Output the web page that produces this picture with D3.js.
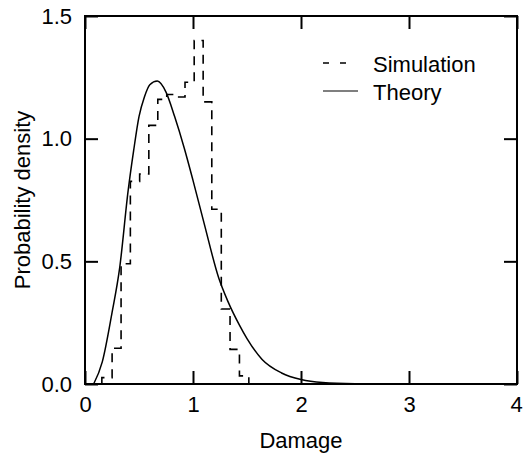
<!DOCTYPE html>
<html>
<head>
<meta charset="utf-8">
<script src="https://cdn.jsdelivr.net/npm/d3@7"></script>
<style>
  html, body { margin: 0; padding: 0; background: #fff; }
  svg { display: block; }
  text { font-family: "Liberation Sans", Arial, Helvetica, sans-serif; fill: #000; }
</style>
</head>
<body>
<svg id="chart" width="525" height="457"></svg>
<script>
// ---- Data ----
const simBinEdges = [0.156, 0.251, 0.334, 0.42, 0.506, 0.591, 0.674, 0.757, 0.837, 0.926, 1.011, 1.094, 1.174, 1.262, 1.343, 1.43, 1.517];
const simValues   = [0.026, 0.146, 0.49, 0.826, 0.856, 1.054, 1.16, 1.18, 1.17, 1.23, 1.40, 1.15, 0.712, 0.306, 0.141, 0.033];

const theoryX = [0.08, 0.16, 0.25, 0.32, 0.40, 0.45, 0.50, 0.55, 0.60, 0.67, 0.75, 0.83, 0.92, 1.00, 1.10, 1.24, 1.32, 1.43, 1.50, 1.64, 1.82, 2.00, 2.20, 2.50, 3.00, 4.00];
const theoryY = [0.0, 0.09, 0.29, 0.47, 0.79, 0.95, 1.09, 1.17, 1.22, 1.235, 1.19, 1.09, 0.96, 0.83, 0.66, 0.43, 0.34, 0.24, 0.185, 0.10, 0.045, 0.018, 0.006, 0.0015, 0.0, 0.0];

const xTicks = [0, 1, 2, 3, 4];
const yTicks = [0, 0.5, 1.0, 1.5];
const xLabel = "Damage";
const yLabel = "Probability density";
const legendLabels = ["Simulation", "Theory"];

// ---- Layout ----
const svg = d3.select("#chart");
const x = d3.scaleLinear().domain([0, 4]).range([85, 517]);
const y = d3.scaleLinear().domain([0, 1.5]).range([384, 16]);
const tickLen = 13;
const fontSize = 22;

// Frame
svg.append("rect")
  .attr("x", x(0)).attr("y", y(1.5))
  .attr("width", x(4) - x(0)).attr("height", y(0) - y(1.5))
  .attr("fill", "none").attr("stroke", "#000").attr("stroke-width", 2);

// Axes with inward ticks
const gB = svg.append("g").attr("transform", `translate(0,${y(0)})`)
  .call(d3.axisBottom(x).tickValues(xTicks).tickSizeInner(-tickLen).tickSizeOuter(0).tickPadding(12).tickFormat(d3.format("d")));
const gT = svg.append("g").attr("transform", `translate(0,${y(1.5)})`)
  .call(d3.axisTop(x).tickValues(xTicks).tickSizeInner(-tickLen).tickSizeOuter(0).tickFormat(""));
const gL = svg.append("g").attr("transform", `translate(${x(0)},0)`)
  .call(d3.axisLeft(y).tickValues(yTicks).tickSizeInner(-tickLen).tickSizeOuter(0).tickPadding(13).tickFormat(d3.format(".1f")));
const gR = svg.append("g").attr("transform", `translate(${x(4)},0)`)
  .call(d3.axisRight(y).tickValues(yTicks).tickSizeInner(-tickLen).tickSizeOuter(0).tickFormat(""));

[gB, gT, gL, gR].forEach(g => {
  g.select(".domain").remove();
  g.selectAll(".tick line").attr("stroke", "#000").attr("stroke-width", 2);
  g.selectAll("text").attr("font-size", fontSize).attr("font-family", "Liberation Sans, Arial, sans-serif").attr("fill", "#000");
});
// keep the last x label inside the window
gB.selectAll(".tick text").filter(d => d === 4).attr("dx", "-1px");

// Axis titles
svg.append("text")
  .attr("x", (x(0) + x(4)) / 2).attr("y", 448)
  .attr("text-anchor", "middle").attr("font-size", fontSize).text(xLabel);
svg.append("text")
  .attr("transform", `translate(30,${(y(0) + y(1.5)) / 2}) rotate(-90)`)
  .attr("text-anchor", "middle").attr("font-size", fontSize).text(yLabel);

// Simulation histogram (step line)
const simPts = [[simBinEdges[0], 0]].concat(simBinEdges.map((e, i) => [e, i < simValues.length ? simValues[i] : 0]));
svg.append("path")
  .attr("d", d3.line().x(d => x(d[0])).y(d => y(d[1])).curve(d3.curveStepAfter)(simPts))
  .attr("fill", "none").attr("stroke", "#000").attr("stroke-width", 1.6)
  .attr("stroke-dasharray", "9,7");

// Theory curve
const thPts = theoryX.map((v, i) => [v, theoryY[i]]);
svg.append("path")
  .attr("d", d3.line().x(d => x(d[0])).y(d => y(d[1])).curve(d3.curveMonotoneX)(thPts))
  .attr("fill", "none").attr("stroke", "#000").attr("stroke-width", 1.5);

// Legend
const leg = svg.append("g");
leg.append("line").attr("x1", 323).attr("x2", 348).attr("y1", 63).attr("y2", 63)
  .attr("stroke", "#000").attr("stroke-width", 1.5).attr("stroke-dasharray", "6,11");
leg.append("text").attr("x", 373).attr("y", 72).attr("font-size", fontSize).text(legendLabels[0]);
leg.append("line").attr("x1", 323).attr("x2", 358).attr("y1", 91).attr("y2", 91)
  .attr("stroke", "#000").attr("stroke-width", 1.2);
leg.append("text").attr("x", 373).attr("y", 100).attr("font-size", fontSize).text(legendLabels[1]);
</script>
</body>
</html>
